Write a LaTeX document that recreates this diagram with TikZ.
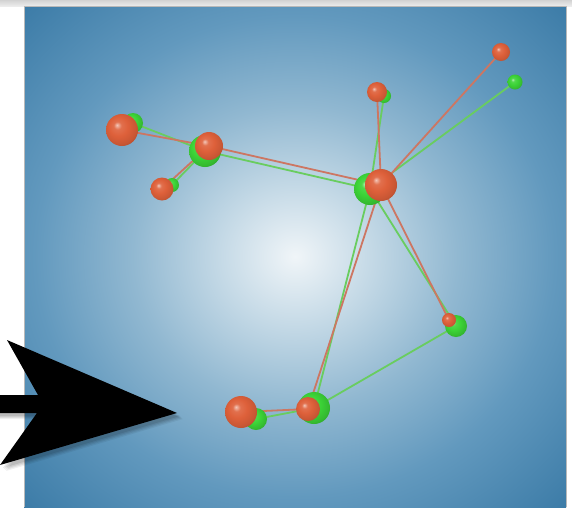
\documentclass[tikz,border=0pt]{standalone}
\usetikzlibrary{shapes.geometric}
\definecolor{redb}{RGB}{222,96,58}
\definecolor{greenb}{RGB}{60,212,55}
\definecolor{redl}{RGB}{205,118,98}
\definecolor{greenl}{RGB}{105,205,95}
\definecolor{bgA}{RGB}{240,245,248}
\definecolor{bgB}{RGB}{196,217,230}
\definecolor{bgC}{RGB}{145,184,209}
\definecolor{bgD}{RGB}{98,153,190}
\definecolor{bgE}{RGB}{58,122,166}
\pgfdeclareradialshading{panelshade}{\pgfpoint{0bp}{0bp}}{color(0bp)=(bgA); color(7bp)=(bgB); color(15bp)=(bgC); color(24bp)=(bgD); color(36bp)=(bgE); color(50bp)=(bgE)}
\pgfdeclareradialshading{redballshade}{\pgfpoint{-8bp}{8bp}}{color(0bp)=(redb!35!white); color(6bp)=(redb!90!white); color(15bp)=(redb); color(26bp)=(redb!90!black); color(34bp)=(redb!75!black); color(50bp)=(redb!70!black)}
\pgfdeclareradialshading{greenballshade}{\pgfpoint{-8bp}{8bp}}{color(0bp)=(greenb!35!white); color(6bp)=(greenb!90!white); color(15bp)=(greenb); color(26bp)=(greenb!88!black); color(34bp)=(greenb!72!black); color(50bp)=(greenb!65!black)}
\tikzset{
  redball/.style={circle, inner sep=0pt, shading=redballshade},
  greenball/.style={circle, inner sep=0pt, shading=greenballshade},
  redlink/.style={draw=redl, line width=1.8pt},
  greenlink/.style={draw=greenl, line width=1.8pt},
}
\begin{document}
\begin{tikzpicture}[x=1pt,y=-1pt]
\useasboundingbox (0,0) rectangle (572,507);
% top shadow strip
\shade[top color=gray!35, bottom color=gray!15] (0,0) rectangle (572,6);
% panel
\shade[shading=panelshade] (24,6) rectangle (566,507);
\draw[gray!55, line width=0.8pt] (24,507) -- (24,6) -- (566,6) -- (566,507);
% coordinates
\coordinate (r1) at (122,130); \coordinate (g1) at (133,123);
\coordinate (r2) at (209,146); \coordinate (g2) at (205,151);
\coordinate (r3) at (162,189); \coordinate (g3) at (172,185);
\coordinate (r4) at (381,185); \coordinate (g4) at (370,189);
\coordinate (r5) at (377,92);  \coordinate (g5) at (384,96);
\coordinate (r6) at (501,52);  \coordinate (g6) at (515,82);
\coordinate (r7) at (449,320); \coordinate (g7) at (456,326);
\coordinate (r8) at (241,412); \coordinate (g8) at (256,419);
\coordinate (r9) at (308,409); \coordinate (g9) at (314,408);
% green links
\path[greenlink] (g1) -- (g2);
\path[greenlink] (g2) -- (g3);
\path[greenlink] (g2) -- (g4);
\path[greenlink] (g4) -- (g5);
\path[greenlink] (g4) -- (g6);
\path[greenlink] (g4) -- (g7);
\path[greenlink] (g4) -- (g9);
\path[greenlink] (g7) -- (g9);
\path[greenlink] (g8) -- (g9);
% red links
\path[redlink] (r1) -- (r2);
\path[redlink] (r2) -- (r3);
\path[redlink] (r2) -- (r4);
\path[redlink] (r4) -- (r5);
\path[redlink] (r4) -- (r6);
\path[redlink] (r4) -- (r7);
\path[redlink] (r4) -- (r9);
\path[redlink] (r8) -- (r9);
% green balls
\node[greenball, minimum size=20pt] (G1) at (g1) {};
\node[greenball, minimum size=32pt] (G2) at (g2) {};
\node[greenball, minimum size=14pt] (G3) at (g3) {};
\node[greenball, minimum size=32pt] (G4) at (g4) {};
\node[greenball, minimum size=14pt] (G5) at (g5) {};
\node[greenball, minimum size=15pt] (G6) at (g6) {};
\node[greenball, minimum size=22pt] (G7) at (g7) {};
\node[greenball, minimum size=22pt] (G8) at (g8) {};
\node[greenball, minimum size=32pt] (G9) at (g9) {};
% red balls
\node[redball, minimum size=32pt] (R1) at (r1) {};
\node[redball, minimum size=28pt] (R2) at (r2) {};
\node[redball, minimum size=23pt] (R3) at (r3) {};
\node[redball, minimum size=32pt] (R4) at (r4) {};
\node[redball, minimum size=20pt] (R5) at (r5) {};
\node[redball, minimum size=18pt] (R6) at (r6) {};
\node[redball, minimum size=14pt] (R7) at (r7) {};
\node[redball, minimum size=32pt] (R8) at (r8) {};
\node[redball, minimum size=24pt] (R9) at (r9) {};
% big arrow with soft shadow
\foreach \o/\a in {6/0.06,5/0.07,4/0.08,3/0.09} {
  \fill[black, opacity=\a] (0,395+\o) -- (38+\o,395+\o) -- (7+\o,340+\o) -- (177+\o,413+\o) -- (0+\o,465+\o) -- (37+\o,413+\o) -- (0,413+\o) -- cycle;
}
\fill[black] (0,395) -- (38,395) -- (7,340) -- (177,413) -- (0,465) -- (37,413) -- (0,413) -- cycle;
\end{tikzpicture}
\end{document}
